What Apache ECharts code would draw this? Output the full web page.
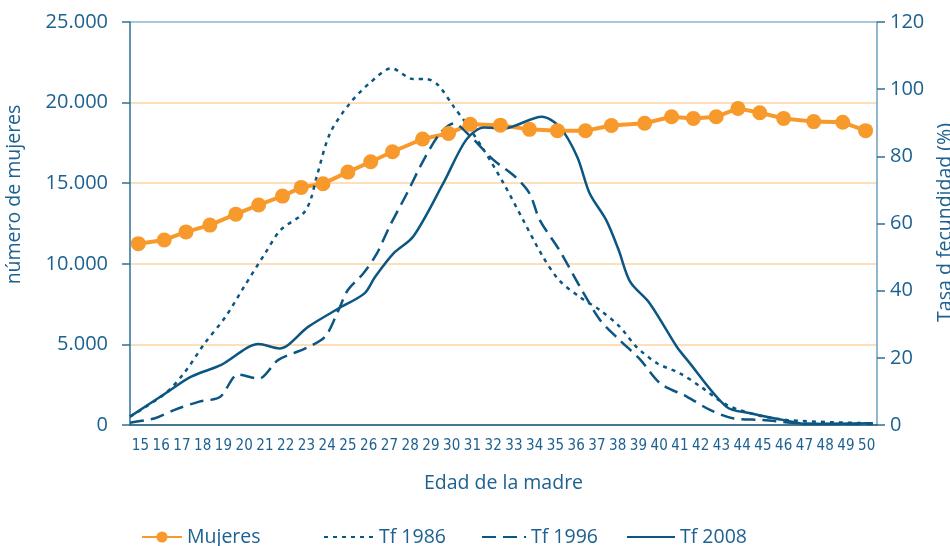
<!DOCTYPE html>
<html>
<head>
<meta charset="utf-8">
<script src="https://cdn.jsdelivr.net/npm/echarts@6/dist/echarts.min.js"></script>
<style>
  html, body { margin: 0; padding: 0; background: #fff; }
  #chart { width: 950px; height: 546px; }
</style>
</head>
<body>
<div id="chart"></div>
<script>
// etiquetas del eje X (edad de la madre)
var edades = [];
for (var e = 15; e <= 50; e++) edades.push(String(e));

// Mujeres: posiciones (edad) y numero de mujeres
var mujeresEdad = [14.9, 16.15, 17.2, 18.35, 19.6, 20.7, 21.85, 22.75, 23.8, 25.0, 26.1, 27.15, 28.6, 29.85, 30.9,
  32.35, 33.75, 35.1, 36.45, 37.7, 39.3, 40.6, 41.65, 42.75, 43.8, 44.85, 46.0, 47.45, 48.85, 49.95];
var mujeresValor = [11250, 11480, 11980, 12400, 13080, 13650, 14200, 14740, 14970, 15690, 16330, 16950, 17740, 18090, 18650,
  18600, 18340, 18260, 18250, 18580, 18720, 19120, 19020, 19120, 19640, 19370, 19020, 18820, 18780, 18260];

// Tasa de fecundidad (%)
var tf1986Edad = [14.5, 16.2, 17.1, 18.1, 19.1, 20.0, 21.0, 21.75, 22.85, 23.2, 23.5, 24.15, 25.1, 26.05, 27.1, 28.15, 28.8,
  29.35, 30.1, 30.7, 31.55, 32.5, 33.45, 34.4, 35.2, 36.2, 37.15, 38.1, 38.9, 39.9, 41.0, 42.0, 43.25, 44.7, 46.15, 48.4, 50.3];
var tf1986Valor = [2.5, 9.4, 15.4, 24.3, 32.2, 41.2, 51, 58, 63, 67, 74, 87, 95.8, 101.8, 106.2, 103, 103,
  101.2, 94.8, 89.8, 81.9, 72, 61, 50.1, 43, 38, 34.2, 29.3, 23.3, 18.4, 15.4, 11.4, 6, 3, 1.5, 0.8, 0.5];

var tf1996Edad = [14.5, 15.7, 16.65, 17.8, 18.85, 19.7, 20.7, 21.65, 22.95, 23.9, 24.55, 25.0, 25.75, 26.4, 27.0, 27.85,
  28.65, 29.45, 30.1, 30.9, 32.0, 33.05, 33.75, 34.25, 35.2, 36.2, 37.15, 38.1, 39.1, 40.05, 41.35, 42.45, 43.55, 45.0, 46.8, 48.4, 50.3];
var tf1996Valor = [0.7, 2, 4.5, 6.9, 8.4, 15, 13.8, 19.4, 22.8, 26.3, 34.2, 40.2, 45.2, 51.1, 59, 69,
  78.9, 86.9, 89.8, 86, 79, 74, 69, 61, 52, 41, 31.3, 25.3, 19.4, 12.4, 8.4, 4.5, 2, 1.5, 0.5, 0.3, 0.3];

var tf2008Edad = [14.5, 16.2, 17.45, 18.9, 20.7, 21.7, 23.1, 24.55, 25.8, 26.3, 27.2, 28.15, 29.6, 30.7, 31.55, 32.5, 34.35,
  35.2, 36.05, 36.65, 37.45, 38.05, 38.6, 39.55, 40.85, 41.35, 43.25, 44.4, 46.15, 47.1, 50.3];
var tf2008Valor = [2.5, 9.4, 14.4, 17.9, 24.1, 22.8, 29.3, 34.7, 39.2, 44, 51.1, 56.1, 72, 84.9, 88.6, 88.3, 91.8,
  88.8, 79.9, 69, 61, 52.1, 42.7, 36.2, 23.3, 19.4, 5.4, 3.5, 1.3, 0.3, 0.5];

var azul = '#0b5682';
var texto = '#1d6190';
var naranja = '#f7992b';
var fuente = '"Open Sans", "Noto Sans", sans-serif';

function pares(xs, ys) {
  return xs.map(function (x, i) { return [x, ys[i]]; });
}
function miles(v) {
  return String(v).replace(/\B(?=(\d{3})+(?!\d))/g, '.');
}

var chart = echarts.init(document.getElementById('chart'));
var leyenda = function (name, left, iw, sinPunto) {
  var item = { name: name };
  // las series Tf no llevan marcador en la leyenda
  if (sinPunto) item.itemStyle = { color: 'rgba(0,0,0,0)', borderWidth: 0 };
  return {
    data: [item], left: left, top: 522, itemWidth: iw, itemHeight: 14, itemGap: 0,
    textStyle: { color: texto, fontSize: 19.5, fontFamily: fuente, padding: [0, 0, 0, 0] }
  };
};
chart.setOption({
  animation: false,
  backgroundColor: '#fff',
  grid: { left: 130, right: 73, top: 22, bottom: 121, containLabel: false, outerBoundsMode: 'none' },
  legend: [
    leyenda('Mujeres', 136, 40, false),
    leyenda('Tf 1986', 318, 50, true),
    leyenda('Tf 1996', 476, 44, true),
    leyenda('Tf 2008', 621, 48, true)
  ],
  xAxis: [
    {
      type: 'category',
      data: edades,
      boundaryGap: true,
      name: 'Edad de la madre',
      nameLocation: 'middle',
      nameGap: 48,
      nameTextStyle: { color: texto, fontSize: 19.5, fontFamily: fuente },
      axisLine: { lineStyle: { color: azul, width: 1.5 } },
      axisTick: { show: false },
      axisLabel: { interval: 0, color: texto, fontSize: 15, margin: 14,
        fontFamily: '"DejaVu Sans Condensed", "Liberation Sans Narrow", sans-serif' },
      splitLine: { show: false }
    },
    {
      type: 'value',
      min: 14.5,
      max: 50.5,
      show: false
    }
  ],
  yAxis: [
    {
      type: 'value',
      min: 0,
      max: 25000,
      interval: 5000,
      name: 'número de mujeres',
      nameLocation: 'middle',
      nameRotate: 90,
      nameGap: 106,
      nameTextStyle: { color: texto, fontSize: 19.5, fontFamily: fuente, padding: [0, 0, 0, 58] },
      axisLine: { show: true, lineStyle: { color: '#2f6f99', width: 1.5 } },
      axisTick: { show: true, length: 8, lineStyle: { color: '#2f6f99', width: 1.5 } },
      axisLabel: { color: texto, fontSize: 20, margin: 22, fontFamily: fuente, formatter: miles },
      splitLine: { show: true, lineStyle: { color: ['#fdd4a6', '#fdd4a6', '#fdd4a6', '#fdd4a6', '#fdd4a6', '#8fb4cf'], width: 1.5 } }
    },
    {
      type: 'value',
      min: 0,
      max: 120,
      interval: 20,
      position: 'right',
      name: 'Tasa d fecundidad (%)',
      nameLocation: 'middle',
      nameRotate: 90,
      nameGap: 55,
      nameTextStyle: { color: texto, fontSize: 19.5, fontFamily: fuente, padding: [0, 0, 0, 2] },
      axisLine: { show: true, lineStyle: { color: '#6f9ec0', width: 1.5 } },
      axisTick: { show: true, length: 8, lineStyle: { color: '#2f6f99', width: 1.5 } },
      axisLabel: { color: texto, fontSize: 20, margin: 13, fontFamily: fuente },
      splitLine: { show: false }
    }
  ],
  series: [
    {
      name: 'Mujeres',
      type: 'line',
      xAxisIndex: 1,
      yAxisIndex: 0,
      data: pares(mujeresEdad, mujeresValor),
      symbol: 'circle',
      symbolSize: 15,
      itemStyle: { color: naranja },
      lineStyle: { color: naranja, width: 4 }
    },
    {
      name: 'Tf 1986',
      type: 'line',
      xAxisIndex: 1,
      yAxisIndex: 1,
      data: pares(tf1986Edad, tf1986Valor),
      smooth: 0.3,
      symbol: 'none',
      itemStyle: { color: azul },
      lineStyle: { color: azul, width: 2.5, type: [4, 5] }
    },
    {
      name: 'Tf 1996',
      type: 'line',
      xAxisIndex: 1,
      yAxisIndex: 1,
      data: pares(tf1996Edad, tf1996Valor),
      smooth: 0.3,
      symbol: 'none',
      itemStyle: { color: azul },
      lineStyle: { color: azul, width: 2.5, type: [14, 7] }
    },
    {
      name: 'Tf 2008',
      type: 'line',
      xAxisIndex: 1,
      yAxisIndex: 1,
      data: pares(tf2008Edad, tf2008Valor),
      smooth: 0.3,
      symbol: 'none',
      itemStyle: { color: azul },
      lineStyle: { color: azul, width: 2.5 }
    }
  ]
});
</script>
</body>
</html>
